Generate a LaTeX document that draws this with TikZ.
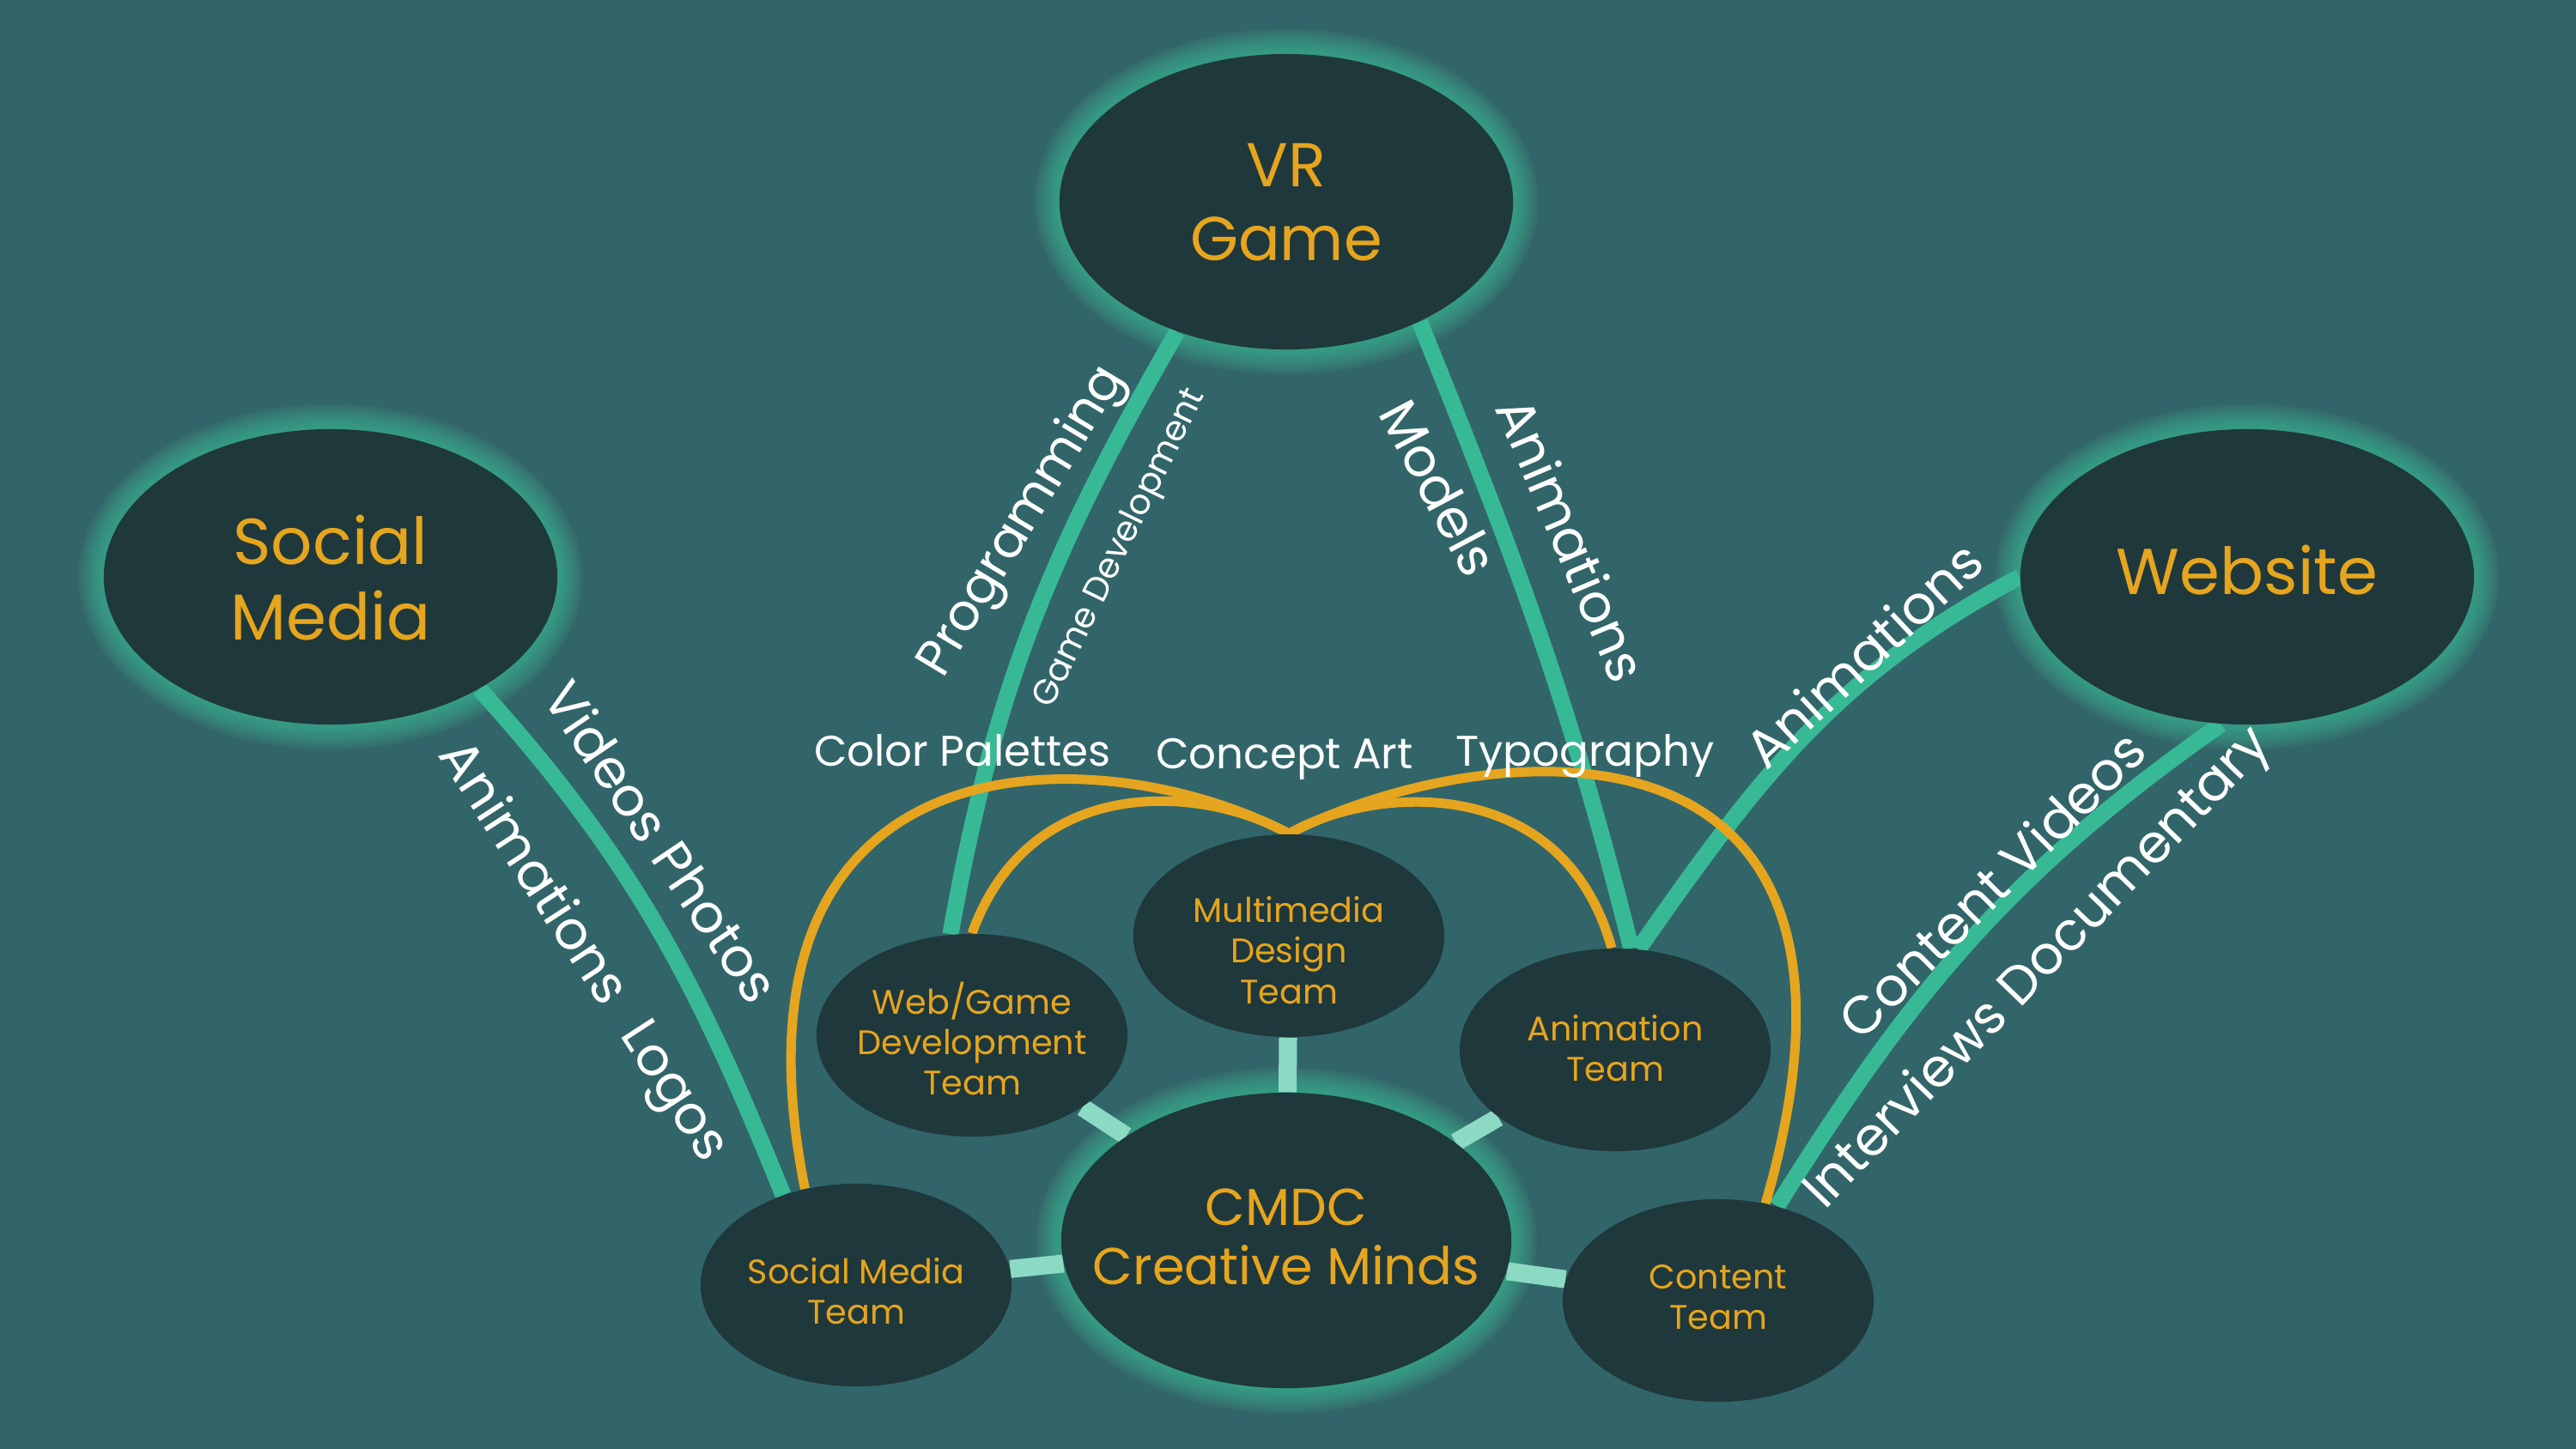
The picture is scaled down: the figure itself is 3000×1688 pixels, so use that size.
\documentclass[tikz,border=0pt]{standalone}
\usepackage{fontspec}
\setmainfont{Poppins}
\usetikzlibrary{shapes.geometric,calc}
\pgfdeclarelayer{glowlayer}
\pgfdeclarelayer{linklayer}
\pgfsetlayers{glowlayer,linklayer,main}
\definecolor{bgc}{HTML}{326569}
\definecolor{nodec}{HTML}{1F383B}
\definecolor{orangec}{HTML}{E6A51E}
\definecolor{greenc}{HTML}{38B996}
\definecolor{lightc}{HTML}{8CDAC3}
\definecolor{glowc}{HTML}{45C79E}
\tikzset{
  bignode/.style={ellipse, fill=nodec, minimum width=5.28cm, minimum height=3.44cm, inner sep=0pt},
  smallnode/.style={ellipse, fill=nodec, minimum width=3.62cm, minimum height=2.36cm, inner sep=0pt},
  bigtext/.style={text=orangec, align=center, inner sep=0pt, font=\fontsize{21.5}{25}\selectfont},
  vrtext/.style={text=orangec, align=center, inner sep=0pt, font=\fontsize{20.5}{24.5}\selectfont},
  cmdctext/.style={text=orangec, align=center, inner sep=0pt, font=\fontsize{17.2}{19.6}\selectfont},
  smalltext/.style={text=orangec, align=center, inner sep=0pt, font=\fontsize{11.3}{13.4}\selectfont},
  elabel/.style={text=white, inner sep=0pt, font=\fontsize{17.6}{20}\selectfont},
  glabel/.style={text=white, inner sep=0pt, font=\fontsize{11.5}{14}\selectfont},
  hlabel/.style={text=white, inner sep=0pt, anchor=base, font=\fontsize{14.2}{16}\selectfont},
  gline/.style={draw=greenc, line width=0.19cm},
  oline/.style={draw=orangec, line width=0.11cm},
  lightlink/.style={draw=lightc, line width=0.21cm},
}
\newcommand\myglow[3]{%
  \foreach \k in {1,...,15}{%
    \fill[glowc, opacity=0.06] (#1) ellipse [x radius={#2cm+\k*0.02cm}, y radius={#3cm+\k*0.02cm}];
  }%
}
\begin{document}
\begin{tikzpicture}[x=0.01cm,y=-0.01cm]
\useasboundingbox (0,0) rectangle (3000,1688);
% nodes
\node[bignode] (vr) at (1498,235) {};
\node[bignode] (sm) at (385,672) {};
\node[bignode] (web) at (2617,672) {};
\node[bignode, minimum width=5.24cm] (cmdc) at (1498,1445) {};
\node[smallnode] (md) at (1501,1090) {};
\node[smallnode] (wg) at (1132,1206) {};
\node[smallnode] (anim) at (1881,1223) {};
\node[smallnode] (smt) at (997,1497) {};
\node[smallnode] (ct) at (2001,1515) {};
% node texts
\node[vrtext] (vrt) at (1498,236) {VR\\Game};
\node[bigtext] (smtxt) at (385,673) {Social\\Media};
\node[bigtext] (webt) at (2617,664) {Website};
\node[cmdctext] (cmdct) at (1498,1441) {CMDC\\Creative Minds};
\node[smalltext] (mdt) at (1501,1107) {Multimedia\\Design\\Team};
\node[smalltext] (wgt) at (1132,1210) {Web/Game\\Development\\Team};
\node[smalltext] (animt) at (1881,1221) {Animation\\Team};
\node[smalltext] (smtt) at (997,1504) {Social Media\\Team};
\node[smalltext] (ctt) at (2001,1511) {Content\\Team};
% edge labels
\node[elabel, rotate=59, font=\fontsize{16.8}{20}\selectfont] (lprog) at (1192,608) {Programming};
\node[glabel, rotate=64] (lgame) at (1305,639) {Game Development};
\node[elabel, rotate=-62] (lmod) at (1676,568) {Models};
\node[elabel, rotate=-67] (lanim1) at (1831,628) {Animations};
\node[elabel, rotate=-56] (lvid) at (771,980) {Videos Photos};
\node[elabel, rotate=-57] (lanim2) at (677,1110) {Animations\hspace{0.6em}Logos};
\node[elabel, rotate=43] (lanim3) at (2170,762) {Animations};
\node[elabel, rotate=45] (lcont) at (2319,1030) {Content Videos};
\node[elabel, rotate=46] (lint) at (2375,1129) {Interviews Documentary};
\node[hlabel] (lcol) at (1121,892) {Color Palettes};
\node[hlabel] (lcon) at (1496,895) {Concept Art};
\node[hlabel] (ltyp) at (1846,892) {Typography};
% background and glows
\begin{pgfonlayer}{glowlayer}
\fill[bgc] (0,0) rectangle (3000,1688);
\myglow{vr}{2.64}{1.72}
\myglow{sm}{2.64}{1.72}
\myglow{web}{2.64}{1.72}
\myglow{cmdc}{2.62}{1.72}
\end{pgfonlayer}
% links
\begin{pgfonlayer}{linklayer}
\draw[lightlink] (cmdc) -- (md);
\draw[lightlink] (cmdc) -- (wg);
\draw[lightlink] (cmdc) -- (anim);
\draw[lightlink] (cmdc) -- (smt);
\draw[lightlink] (cmdc) -- (ct);
\draw[gline] (vr.230) to[out=240,in=80] (wg.102);
\draw[gline] (vr.318) to[out=292,in=104] (anim.81);
\draw[gline] (sm.323) to[out=312,in=112] (smt.129);
\draw[gline] (web.180) to[out=208,in=55] (anim.77);
\draw[gline] (web.260) to[out=215,in=58] (ct.58);
\draw[oline] (md.north) .. controls +(-101,-57) and +(68,-188) .. (wg.90);
\draw[oline] (md.north) .. controls +(99,-57) and +(-57,-205) .. (anim.92);
\draw[oline] (md.north) .. controls +(-211,-112) and +(-108,-545) .. (smt.118);
\draw[oline] (md.north) .. controls +(219,-112) and +(174,-603) .. (ct.64);
\end{pgfonlayer}
\end{tikzpicture}
\end{document}
